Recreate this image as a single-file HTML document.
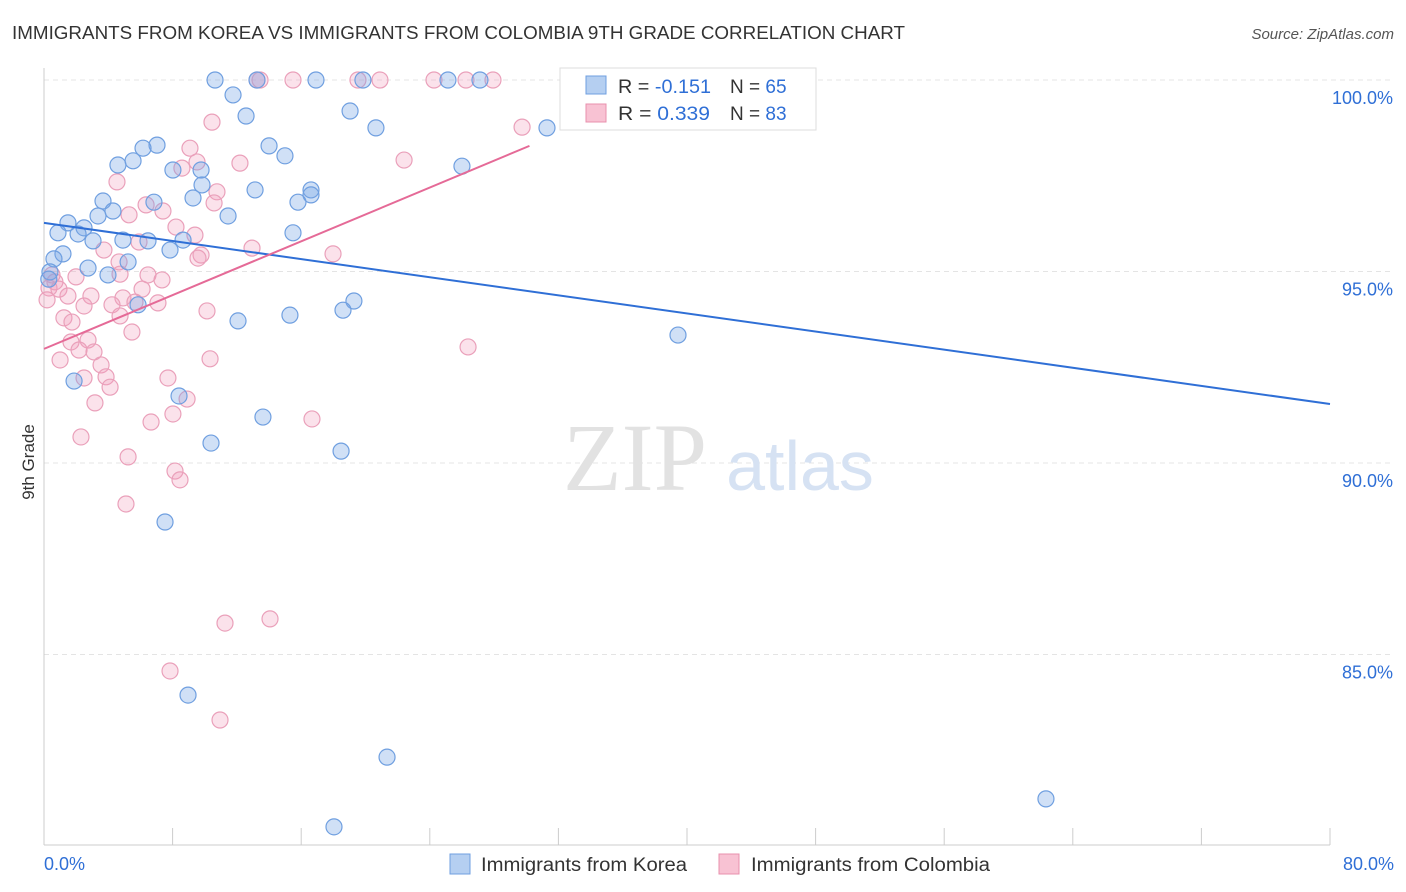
<!DOCTYPE html>
<html><head><meta charset="utf-8"><style>
body{margin:0;background:#fff;font-family:"Liberation Sans",sans-serif}
svg{display:block}
</style></head><body>
<svg id="chart" width="1406" height="892" xmlns="http://www.w3.org/2000/svg">
<text x="12" y="39" font-size="18" fill="#333" textLength="893" lengthAdjust="spacingAndGlyphs">IMMIGRANTS FROM KOREA VS IMMIGRANTS FROM COLOMBIA 9TH GRADE CORRELATION CHART</text>
<text x="1394" y="39" font-size="15" fill="#555" text-anchor="end" font-style="italic">Source: ZipAtlas.com</text>
<g id="grid"></g>
<g>
<text x="635" y="490" font-size="96" fill="#e2e2e2" text-anchor="middle" font-family="Liberation Serif,serif">ZIP</text>
<text x="800" y="490" font-size="70" fill="#d6e2f3" text-anchor="middle">atlas</text>
</g>
<g id="pts"></g>
<g id="lines"></g>
<text x="34" y="462" font-size="17" fill="#333" text-anchor="middle" transform="rotate(-90 34 462)">9th Grade</text>
<g>
<rect x="560" y="68" width="256" height="62" fill="#fff" stroke="#ddd"/>
<rect x="586" y="76" width="20" height="18" fill="#b5cff1" stroke="#6f9fe0"/>
<rect x="586" y="104" width="20" height="18" fill="#f8c2d3" stroke="#e890ae"/>
<text x="618" y="93" font-size="19" fill="#333" textLength="93" lengthAdjust="spacingAndGlyphs">R = <tspan fill="#2f6fd6">-0.151</tspan></text>
<text x="730" y="93" font-size="19" fill="#333">N = <tspan fill="#2f6fd6">65</tspan></text>
<text x="618" y="120" font-size="19" fill="#333" textLength="92" lengthAdjust="spacingAndGlyphs">R = <tspan fill="#2f6fd6">0.339</tspan></text>
<text x="730" y="120" font-size="19" fill="#333">N = <tspan fill="#2f6fd6">83</tspan></text>
</g>
<g>
<rect x="450" y="854" width="20" height="20" fill="#b5cff1" stroke="#6f9fe0"/>
<text x="481" y="871" font-size="19" fill="#333" textLength="206" lengthAdjust="spacingAndGlyphs">Immigrants from Korea</text>
<rect x="719" y="854" width="20" height="20" fill="#f8c2d3" stroke="#e890ae"/>
<text x="751" y="871" font-size="19" fill="#333" textLength="239" lengthAdjust="spacingAndGlyphs">Immigrants from Colombia</text>
</g>
</svg>
<script>
const yTicks=[100,95,90,85];
const yTickLabels=["100.0%","95.0%","90.0%","85.0%"];
const xTickLabels=["0.0%","80.0%"];
const koreaX=[10.64,13.25,16.92,19.84,25.13,27.12,33.97,11.76,19.04,12.57,20.65,31.29,7.03,14.0,6.16,14.99,4.60,5.54,8.02,9.77,26.0,9.83,13.13,16.61,16.61,6.84,9.27,3.67,15.80,4.29,3.36,11.45,1.49,2.49,0.87,2.12,15.49,3.05,4.91,6.47,8.65,7.84,1.18,0.62,5.23,2.74,0.37,3.98,5.85,19.28,18.60,15.30,12.07,39.44,1.87,8.40,13.62,10.39,18.48,7.53,8.96,21.34,62.33,18.04,0.3];
const koreaY=[100,100,100,100,100,100,100,99.61,99.19,99.06,98.75,98.75,98.30,98.28,98.22,98.02,97.78,97.89,97.65,97.65,97.75,97.26,97.13,97.13,97.0,96.81,96.92,96.84,96.81,96.58,96.45,96.45,96.27,96.14,96.01,95.98,96.01,95.80,95.82,95.80,95.82,95.56,95.46,95.33,95.25,95.09,94.99,94.91,94.13,94.23,93.99,93.86,93.71,93.34,92.14,91.75,91.20,90.52,90.31,88.46,83.94,82.32,81.23,80.50,94.8];
const colX=[13.25,13.44,15.49,19.53,20.90,24.26,26.25,27.93,10.45,29.74,9.08,22.40,12.19,9.52,8.58,4.54,10.76,10.58,6.35,7.40,5.29,8.21,9.39,5.91,12.94,3.73,9.77,9.58,17.98,4.67,6.47,7.34,1.99,4.73,0.68,0.31,0.93,1.49,2.92,6.10,4.91,5.66,7.09,4.23,2.49,10.14,1.24,4.73,1.74,5.47,1.68,2.74,2.18,3.11,26.38,10.33,1.0,3.55,3.86,7.71,2.49,4.11,8.90,3.17,16.67,6.66,8.02,2.30,5.23,8.15,8.46,5.10,11.26,14.06,7.84,10.95,0.19,0.5];
const colY=[100,100,100,100,100,100,100,100,98.90,98.77,98.22,97.91,97.83,97.86,97.70,97.34,97.08,96.79,96.74,96.58,96.48,96.16,95.95,95.77,95.61,95.56,95.43,95.35,95.46,95.25,94.91,94.78,94.86,94.93,94.73,94.57,94.54,94.36,94.36,94.54,94.31,94.20,94.18,94.13,94.10,93.97,93.79,93.84,93.68,93.42,93.16,93.21,92.95,92.90,93.03,92.72,92.69,92.56,92.25,92.22,92.22,91.98,91.67,91.57,91.15,91.07,91.28,90.68,90.16,89.79,89.56,88.93,85.82,85.93,84.57,83.29,94.26,94.91];
const koreaTrend=[[0,96.27],[80,91.54]];
const colTrend=[[0,92.98],[30.2,98.28]];
const NS="http://www.w3.org/2000/svg";
const X0=44,X1=1330,Y100=80,PX5=191.5;
function sx(v){return X0+(v/80)*(X1-X0);}
function sy(v){return Y100+(100-v)/5*PX5;}
function mk(t,a,p){const e=document.createElementNS(NS,t);for(const k in a)e.setAttribute(k,a[k]);p.appendChild(e);return e;}
const grid=document.getElementById('grid');
yTicks.forEach((t,i)=>{
 const l=mk('line',{x1:X0,x2:1394,y1:sy(t),y2:sy(t),stroke:'#e4e4e4','stroke-dasharray':'5,4'},grid);
 
 
 const tx=mk('text',{x:1393,y:sy(t)+24,'font-size':18,fill:'#2f6fd6','text-anchor':'end'},grid);
 tx.textContent=yTickLabels[i];
 
 
});
const ax=mk('line',{x1:X0,x2:X1,y1:845,y2:845,stroke:'#ccc'},grid);


const ay=mk('line',{x1:X0,x2:X0,y1:68,y2:845,stroke:'#ccc'},grid);


for(let i=0;i<=10;i++){
 const t=mk('line',{x1:sx(i*8),x2:sx(i*8),y1:828,y2:845,stroke:'#ccc'},grid);
 
 
}
[[0,'start',X0],[80,'end',1394]].forEach((d,i)=>{
 const t=mk('text',{x:d[2],y:870,'font-size':18,fill:'#2f6fd6','text-anchor':d[1]},grid);
 t.textContent=xTickLabels[i];
 
 
});
const pts=document.getElementById('pts');
colX.forEach((x,i)=>{
 const c=mk('circle',{cx:sx(x),cy:sy(colY[i]),r:8,fill:'rgba(243,160,188,0.3)',stroke:'#eaa0ba','stroke-width':1.2},pts);
 
 
});
koreaX.forEach((x,i)=>{
 const c=mk('circle',{cx:sx(x),cy:sy(koreaY[i]),r:8,fill:'rgba(120,165,230,0.35)',stroke:'#6f9fe0','stroke-width':1.2},pts);
 
 
});
const lines=document.getElementById('lines');
const bl=mk('line',{x1:sx(koreaTrend[0][0]),y1:sy(koreaTrend[0][1]),x2:sx(koreaTrend[1][0]),y2:sy(koreaTrend[1][1]),stroke:'#2f6fd6','stroke-width':2},lines);


const pl=mk('line',{x1:sx(colTrend[0][0]),y1:sy(colTrend[0][1]),x2:sx(colTrend[1][0]),y2:sy(colTrend[1][1]),stroke:'#e56a97','stroke-width':2},lines);


</script>
</body></html>
